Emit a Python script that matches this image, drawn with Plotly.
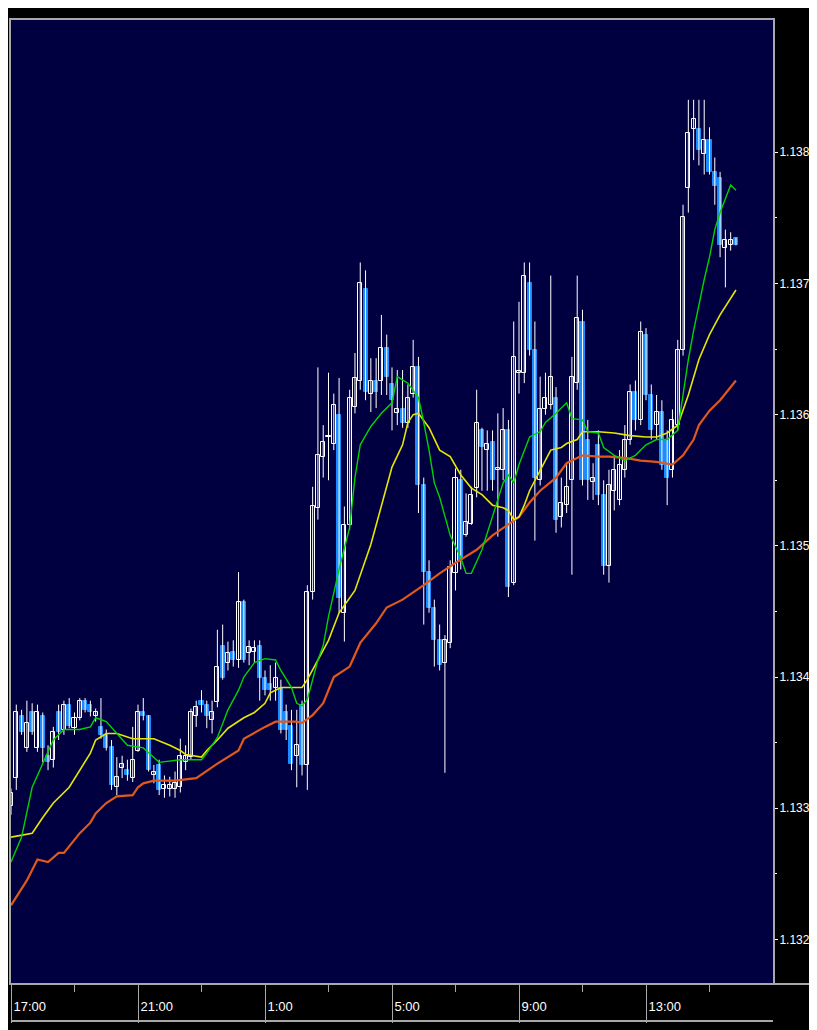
import plotly.graph_objects as go

# ---------------- data (EUR/USD 10-minute candles) ----------------
time_labels = ["17:00", "21:00", "1:00", "5:00", "9:00", "13:00"]
label_bars = [0, 24, 48, 72, 96, 120]
minor_bars = [12, 36, 60, 84, 108, 132]
price_ticks = [1.1320, 1.1330, 1.1340, 1.1350, 1.1360, 1.1370, 1.1380]
price_minor = [1.1325, 1.1335, 1.1345, 1.1355, 1.1365, 1.1375]

opens = [1.13302, 1.13323, 1.13370, 1.13346, 1.13373, 1.13346, 1.13370, 1.13340, 1.13337, 1.13373,
         1.13360, 1.13379, 1.13361, 1.13369, 1.13382, 1.13379, 1.13370, 1.13362, 1.13356, 1.13347,
         1.13316, 1.13331, 1.13329, 1.13323, 1.13344, 1.13373, 1.13370, 1.13325, 1.13333, 1.13315,
         1.13315, 1.13315, 1.13316, 1.13335, 1.13339, 1.13370, 1.13382, 1.13379, 1.13367, 1.13381,
         1.13424, 1.13411, 1.13419, 1.13413, 1.13457, 1.13418, 1.13419, 1.13424, 1.13399, 1.13395,
         1.13392, 1.13392, 1.13373, 1.13363, 1.13340, 1.13379, 1.13333, 1.13465, 1.13529, 1.13568,
         1.13583, 1.13578, 1.13600, 1.13449, 1.13516, 1.13606, 1.13626, 1.13696, 1.13616, 1.13626,
         1.13626, 1.13651, 1.13623, 1.13601, 1.13604, 1.13594, 1.13616, 1.13636, 1.13546, 1.13480,
         1.13453, 1.13428, 1.13411, 1.13426, 1.13479, 1.13550, 1.13508, 1.13517, 1.13544, 1.13588,
         1.13573, 1.13579, 1.13558, 1.13558, 1.13588, 1.13472, 1.13632, 1.13632, 1.13700, 1.13649,
         1.13550, 1.13604, 1.13607, 1.13613, 1.13522, 1.13531, 1.13550, 1.13624, 1.13671, 1.13581,
         1.13549, 1.13577, 1.13539, 1.13485, 1.13542, 1.13535, 1.13558, 1.13581, 1.13617, 1.13596,
         1.13661, 1.13615, 1.13592, 1.13602, 1.13581, 1.13558, 1.13592, 1.13649, 1.13773, 1.13818,
         1.13818, 1.13799, 1.13809, 1.13785, 1.13780, 1.13727, 1.13729, 1.13735]

highs = [1.13315, 1.13379, 1.13375, 1.13382, 1.13380, 1.13379, 1.13373, 1.13348, 1.13362, 1.13379,
         1.13382, 1.13384, 1.13373, 1.13384, 1.13384, 1.13382, 1.13376, 1.13384, 1.13360, 1.13352,
         1.13339, 1.13340, 1.13337, 1.13362, 1.13379, 1.13384, 1.13371, 1.13333, 1.13337, 1.13325,
         1.13324, 1.13328, 1.13353, 1.13348, 1.13376, 1.13382, 1.13390, 1.13382, 1.13382, 1.13436,
         1.13440, 1.13427, 1.13428, 1.13480, 1.13459, 1.13428, 1.13428, 1.13428, 1.13405, 1.13409,
         1.13411, 1.13398, 1.13379, 1.13375, 1.13375, 1.13382, 1.13470, 1.13545, 1.13636, 1.13592,
         1.13632, 1.13616, 1.13628, 1.13530, 1.13619, 1.13647, 1.13716, 1.13710, 1.13643, 1.13643,
         1.13676, 1.13661, 1.13636, 1.13634, 1.13634, 1.13623, 1.13657, 1.13644, 1.13552, 1.13489,
         1.13459, 1.13440, 1.13432, 1.13489, 1.13559, 1.13558, 1.13540, 1.13545, 1.13619, 1.13590,
         1.13588, 1.13588, 1.13601, 1.13605, 1.13596, 1.13671, 1.13686, 1.13716, 1.13716, 1.13671,
         1.13629, 1.13632, 1.13706, 1.13621, 1.13552, 1.13563, 1.13644, 1.13706, 1.13680, 1.13596,
         1.13563, 1.13588, 1.13550, 1.13558, 1.13569, 1.13573, 1.13592, 1.13623, 1.13626, 1.13671,
         1.13666, 1.13623, 1.13615, 1.13611, 1.13588, 1.13604, 1.13657, 1.13760, 1.13840, 1.13840,
         1.13840, 1.13840, 1.13819, 1.13796, 1.13785, 1.13741, 1.13739, 1.13735]

lows = [1.13295, 1.13314, 1.13356, 1.13343, 1.13356, 1.13343, 1.13335, 1.13329, 1.13331, 1.13352,
        1.13356, 1.13361, 1.13356, 1.13367, 1.13373, 1.13370, 1.13366, 1.13353, 1.13344, 1.13314,
        1.13310, 1.13323, 1.13321, 1.13320, 1.13343, 1.13367, 1.13328, 1.13319, 1.13310, 1.13308,
        1.13309, 1.13308, 1.13312, 1.13329, 1.13337, 1.13362, 1.13373, 1.13361, 1.13357, 1.13377,
        1.13398, 1.13405, 1.13408, 1.13407, 1.13411, 1.13409, 1.13411, 1.13382, 1.13386, 1.13382,
        1.13382, 1.13357, 1.13352, 1.13329, 1.13316, 1.13325, 1.13314, 1.13459, 1.13520, 1.13552,
        1.13550, 1.13573, 1.13449, 1.13427, 1.13512, 1.13601, 1.13619, 1.13611, 1.13602, 1.13605,
        1.13615, 1.13615, 1.13588, 1.13592, 1.13590, 1.13590, 1.13613, 1.13525, 1.13440, 1.13449,
        1.13408, 1.13405, 1.13327, 1.13422, 1.13466, 1.13482, 1.13507, 1.13516, 1.13537, 1.13542,
        1.13542, 1.13542, 1.13507, 1.13550, 1.13461, 1.13470, 1.13616, 1.13624, 1.13645, 1.13504,
        1.13546, 1.13600, 1.13604, 1.13510, 1.13514, 1.13525, 1.13478, 1.13619, 1.13546, 1.13535,
        1.13535, 1.13531, 1.13478, 1.13472, 1.13527, 1.13531, 1.13552, 1.13577, 1.13588, 1.13592,
        1.13611, 1.13581, 1.13581, 1.13558, 1.13531, 1.13552, 1.13588, 1.13645, 1.13754, 1.13794,
        1.13790, 1.13783, 1.13783, 1.13760, 1.13720, 1.13697, 1.13725, 1.13729]

closes = [1.13312, 1.13373, 1.13358, 1.13365, 1.13358, 1.13373, 1.13346, 1.13335, 1.13358, 1.13358,
          1.13379, 1.13363, 1.13369, 1.13382, 1.13375, 1.13373, 1.13373, 1.13356, 1.13346, 1.13318,
          1.13324, 1.13334, 1.13325, 1.13337, 1.13373, 1.13370, 1.13329, 1.13328, 1.13314, 1.13318,
          1.13318, 1.13319, 1.13340, 1.13340, 1.13373, 1.13377, 1.13379, 1.13370, 1.13373, 1.13408,
          1.13399, 1.13418, 1.13413, 1.13457, 1.13413, 1.13423, 1.13422, 1.13399, 1.13390, 1.13390,
          1.13399, 1.13360, 1.13360, 1.13334, 1.13348, 1.13333, 1.13465, 1.13530, 1.13569, 1.13579,
          1.13584, 1.13607, 1.13460, 1.13516, 1.13613, 1.13628, 1.13700, 1.13617, 1.13626, 1.13617,
          1.13651, 1.13629, 1.13611, 1.13604, 1.13594, 1.13613, 1.13636, 1.13546, 1.13480, 1.13453,
          1.13428, 1.13409, 1.13428, 1.13484, 1.13552, 1.13489, 1.13518, 1.13539, 1.13594, 1.13575,
          1.13578, 1.13550, 1.13559, 1.13588, 1.13469, 1.13644, 1.13633, 1.13706, 1.13649, 1.13552,
          1.13604, 1.13613, 1.13629, 1.13520, 1.13533, 1.13545, 1.13629, 1.13674, 1.13550, 1.13550,
          1.13552, 1.13539, 1.13485, 1.13546, 1.13558, 1.13562, 1.13581, 1.13617, 1.13596, 1.13663,
          1.13615, 1.13588, 1.13602, 1.13562, 1.13552, 1.13596, 1.13649, 1.13751, 1.13815, 1.13825,
          1.13802, 1.13809, 1.13785, 1.13774, 1.13729, 1.13733, 1.13733, 1.13729]

# moving averages (bar index, price)
ma_fast_bar = [0, 2, 4, 6, 8, 10, 13, 15, 16, 18, 20, 22, 25, 28, 32, 36, 37, 39, 41, 43,
               44, 46, 48, 50, 51, 53, 54, 55, 56, 57, 58, 59, 60, 62, 64, 65, 66, 68, 70, 72,
               73, 75, 77, 78, 79, 80, 81, 83, 85, 86, 87, 89, 91, 93, 94, 95, 96, 98, 100, 101,
               103, 105, 106, 108, 109, 111, 112, 114, 116, 118, 120, 122, 124, 126, 127, 128, 129, 130, 131, 132,
               133, 134, 135, 136, 137]
ma_fast = [1.13259, 1.13278, 1.13316, 1.13334, 1.13352, 1.13360, 1.13360, 1.13362, 1.13369, 1.13366,
           1.13357, 1.13348, 1.13346, 1.13335, 1.13337, 1.13337, 1.13342, 1.13354, 1.13375, 1.13390,
           1.13400, 1.13411, 1.13414, 1.13413, 1.13405, 1.13392, 1.13380, 1.13378, 1.13383, 1.13398,
           1.13413, 1.13424, 1.13446, 1.13482, 1.13514, 1.13552, 1.13577, 1.13591, 1.13601, 1.13609,
           1.13629, 1.13624, 1.13613, 1.13594, 1.13573, 1.13548, 1.13537, 1.13508, 1.13491, 1.13479,
           1.13479, 1.13497, 1.13522, 1.13548, 1.13554, 1.13548, 1.13562, 1.13583, 1.13587, 1.13594,
           1.13601, 1.13609, 1.13597, 1.13596, 1.13587, 1.13586, 1.13575, 1.13569, 1.13565, 1.13569,
           1.13577, 1.13581, 1.13581, 1.13588, 1.13615, 1.13642, 1.13664, 1.13684, 1.13703, 1.13720,
           1.13741, 1.13754, 1.13765, 1.13775, 1.13771]

ma_mid_bar = [0, 4, 6, 8, 11, 13, 15, 16, 18, 20, 23, 27, 30, 32, 33, 36, 37, 39, 41, 44,
              46, 48, 49, 51, 55, 56, 58, 60, 62, 65, 68, 70, 72, 74, 75, 76, 77, 79, 81, 83,
              85, 87, 89, 91, 93, 94, 95, 96, 97, 98, 100, 102, 104, 105, 107, 108, 111, 114, 117, 120,
              122, 124, 126, 128, 130, 132, 134, 135, 137]
ma_mid = [1.13278, 1.13281, 1.13293, 1.13304, 1.13316, 1.13329, 1.13342, 1.13352, 1.13357, 1.13357,
          1.13353, 1.13353, 1.13348, 1.13344, 1.13341, 1.13339, 1.13344, 1.13352, 1.13361, 1.13369,
          1.13373, 1.13380, 1.13388, 1.13392, 1.13392, 1.13398, 1.13413, 1.13428, 1.13449, 1.13466,
          1.13501, 1.13530, 1.13560, 1.13577, 1.13594, 1.13600, 1.13601, 1.13590, 1.13573, 1.13568,
          1.13554, 1.13544, 1.13539, 1.13531, 1.13529, 1.13527, 1.13520, 1.13522, 1.13531, 1.13542,
          1.13558, 1.13573, 1.13575, 1.13578, 1.13581, 1.13587, 1.13587, 1.13586, 1.13584, 1.13583,
          1.13583, 1.13586, 1.13592, 1.13615, 1.13642, 1.13661, 1.13676, 1.13682, 1.13695]

ma_slow_bar = [0, 3, 5, 7, 9, 10, 13, 15, 16, 18, 20, 23, 24, 25, 27, 31, 35, 39, 43, 44,
               48, 50, 54, 55, 57, 59, 61, 64, 66, 69, 71, 74, 78, 81, 84, 88, 91, 94, 96, 98,
               100, 103, 105, 108, 111, 113, 116, 119, 122, 125, 127, 129, 130, 132, 134, 137]
ma_slow = [1.13226, 1.13245, 1.13261, 1.13259, 1.13266, 1.13266, 1.13281, 1.13289, 1.13296, 1.13304,
           1.13309, 1.13310, 1.13316, 1.13319, 1.13321, 1.13321, 1.13323, 1.13334, 1.13344, 1.13353,
           1.13362, 1.13366, 1.13366, 1.13365, 1.13371, 1.13380, 1.13400, 1.13408, 1.13426, 1.13441,
           1.13453, 1.13459, 1.13470, 1.13479, 1.13487, 1.13497, 1.13508, 1.13516, 1.13522, 1.13533,
           1.13542, 1.13552, 1.13563, 1.13569, 1.13568, 1.13568, 1.13567, 1.13565, 1.13564, 1.13562,
           1.13569, 1.13581, 1.13592, 1.13603, 1.13611, 1.13626]

# ---------------- styling ----------------
NAVY = "#000040"
BLUE = "#1a8cff"
WHITE = "#ffffff"
GREY = "#a8a8a8"
FONT = "Liberation Sans Narrow, Arial Narrow, Liberation Sans, Arial, sans-serif"

n = len(opens)
bars = list(range(n))

wick_x, wick_y = [], []
for i in bars:
    wick_x += [i, i, None]
    wick_y += [lows[i], highs[i], None]

rising = [c >= o for o, c in zip(opens, closes)]
body_base = [min(o, c) for o, c in zip(opens, closes)]
body_len = [abs(c - o) for o, c in zip(opens, closes)]
body_fill = [NAVY if r else BLUE for r in rising]
body_edge = [WHITE if r else BLUE for r in rising]

fig = go.Figure()
fig.add_trace(go.Scatter(x=wick_x, y=wick_y, mode="lines",
                         line=dict(color=WHITE, width=1), hoverinfo="skip"))
fig.add_trace(go.Bar(x=bars, y=body_len, base=body_base, width=0.76,
                     marker=dict(color=body_fill, line=dict(color=body_edge, width=1))))
fig.add_trace(go.Scatter(x=ma_slow_bar, y=ma_slow, mode="lines",
                         line=dict(color="#e0581a", width=2.2)))
fig.add_trace(go.Scatter(x=ma_mid_bar, y=ma_mid, mode="lines",
                         line=dict(color="#e6e600", width=1.6)))
fig.add_trace(go.Scatter(x=ma_fast_bar, y=ma_fast, mode="lines",
                         line=dict(color="#00d200", width=1.4)))

# the page body adds an 8 px offset; the figure fills the rest of the 817x1030 window
PLOT_H = 963
PLOT_W = 762
fig.update_layout(
    width=809, height=1022,
    margin=dict(l=3, r=44, t=12, b=47, autoexpand=False),
    paper_bgcolor="black", plot_bgcolor=NAVY,
    showlegend=False, bargap=0,
    xaxis=dict(range=[0, 144.0], tickmode="array", tickvals=label_bars, ticktext=time_labels,
               automargin=False,
               ticks="outside", ticklen=38, tickcolor=GREY, tickwidth=1,
               ticklabelposition="outside right", ticklabelstandoff=10, ticklabelshift=1,
               tickfont=dict(family=FONT, size=13, color=WHITE),
               minor=dict(tickvals=minor_bars, ticks="outside", ticklen=7, tickcolor=GREY, tickwidth=1),
               showgrid=False, zeroline=False, showline=True, linecolor=GREY, linewidth=2, mirror=True),
    yaxis=dict(range=[1.131668, 1.139008], side="right", tickmode="array", tickvals=price_ticks,
               automargin=False,
               tickformat=".4f", ticks="outside", ticklen=3, tickcolor=WHITE, tickwidth=1,
               ticklabelstandoff=-1,
               tickfont=dict(family=FONT, size=12, color=WHITE),
               minor=dict(tickvals=price_minor, ticks="outside", ticklen=2, tickcolor=WHITE),
               showgrid=False, zeroline=False, showline=True, linecolor=GREY, linewidth=2, mirror=True),
    shapes=[
        dict(type="line", xref="paper", yref="paper", x0=0, x1=1,
             y0=-38 / PLOT_H, y1=-38 / PLOT_H, line=dict(color=GREY, width=2)),
        dict(type="line", xref="paper", yref="paper", x0=1, x1=1 + 44 / PLOT_W,
             y0=-1 / PLOT_H, y1=-1 / PLOT_H, line=dict(color=GREY, width=2)),
    ],
)

fig.write_html("out.html")
